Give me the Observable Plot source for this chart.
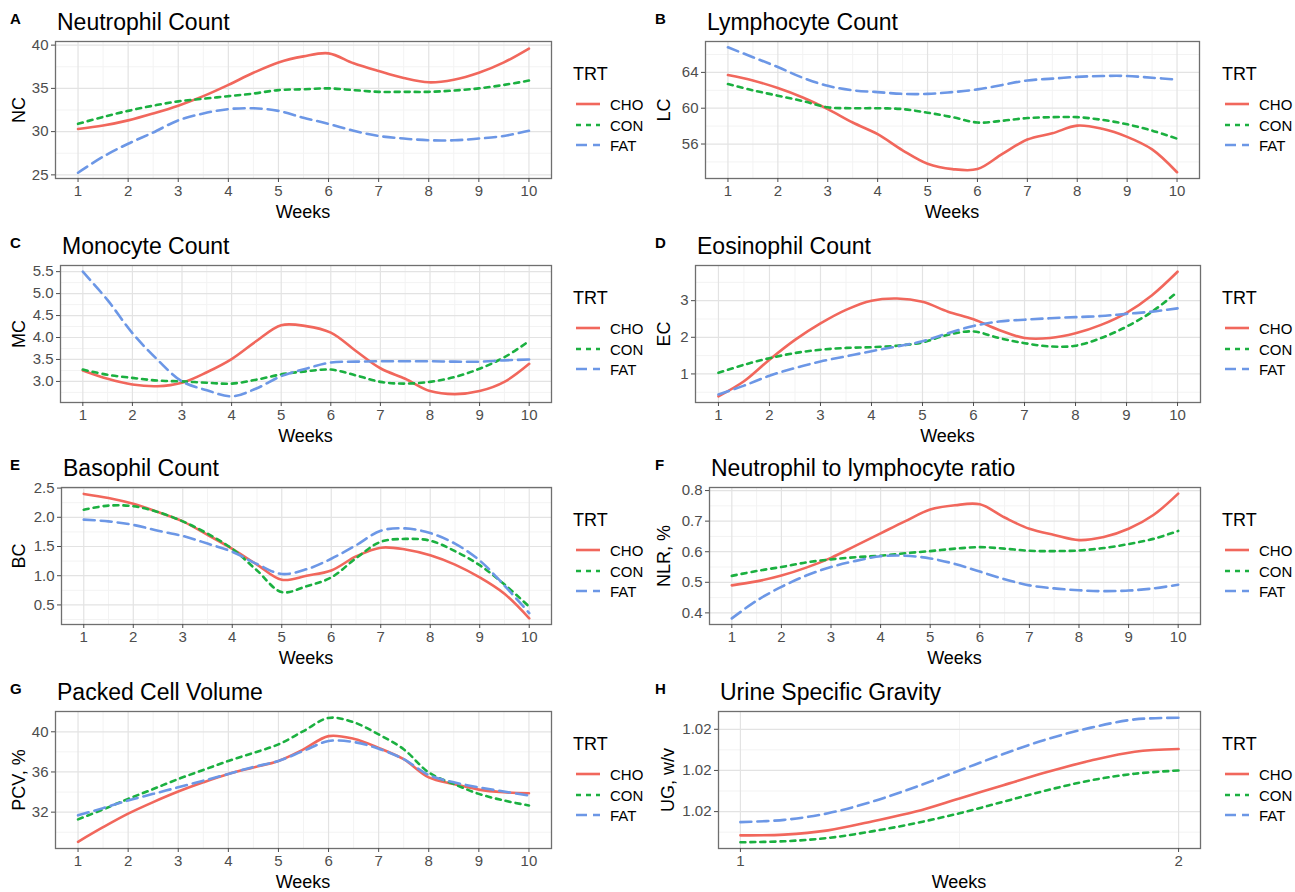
<!DOCTYPE html>
<html><head><meta charset="utf-8">
<script src="https://cdn.jsdelivr.net/npm/d3@7"></script>
<script src="https://cdn.jsdelivr.net/npm/@observablehq/plot@0.6"></script>
<style>
body{margin:0;background:#fff;font-family:"Liberation Sans",Arial,Helvetica,sans-serif;}
#root{position:relative;width:1295px;height:892px;overflow:hidden;background:#fff;}
.abs{position:absolute;white-space:nowrap;line-height:1;color:#000;}
.title{font-size:23px;transform:translateY(-50%);}
.letter{font-size:15px;font-weight:bold;transform:translateY(-50%);}
.ytitle{font-size:18px;transform:translate(-50%,-50%) rotate(-90deg);}
.xtitle{font-size:18px;transform:translate(-50%,-50%);}
.legtitle{font-size:18px;transform:translateY(-50%);}
.legitem{font-size:15px;transform:translateY(-50%);}
svg.key{position:absolute;overflow:visible;}
.plotwrap{position:absolute;}
</style>
</head><body>
<div id="root"></div>
<script>
// ---------- data ----------
const trt = ["CHO", "CON", "FAT"];
const weeks = [1,1.5,2,2.5,3,3.5,4,4.5,5,5.5,6,6.5,7,7.5,8,8.5,9,9.5,10];
const weeksUG = [1,1.1,1.2,1.3,1.4,1.5,1.6,1.7,1.8,1.9,2];
const weekTicks = [1,2,3,4,5,6,7,8,9,10];
const weekMinor = [1.5,2.5,3.5,4.5,5.5,6.5,7.5,8.5,9.5];
const weekTicksUG = [1,2];
const weekMinorUG = [1.5];

const NC_CHO = [30.3,30.7,31.3,32.1,33.0,34.1,35.4,36.8,38.0,38.7,39.05,37.9,37.0,36.2,35.7,36.0,36.8,38.0,39.6];
const NC_CON = [30.9,31.7,32.4,33.0,33.5,33.8,34.1,34.4,34.8,34.9,35.0,34.8,34.6,34.6,34.6,34.75,35.0,35.4,35.9];
const NC_FAT = [25.25,27.1,28.6,29.9,31.3,32.1,32.6,32.7,32.4,31.6,30.9,30.1,29.5,29.2,29.0,29.0,29.2,29.5,30.1];

const LC_CHO = [63.7,63.1,62.25,61.2,59.9,58.4,57.1,55.3,53.8,53.2,53.2,54.9,56.5,57.2,58.05,57.7,56.8,55.4,52.85];
const LC_CON = [62.7,62.0,61.4,60.8,60.1,60.0,60.0,59.9,59.5,59.0,58.4,58.6,58.9,59.0,59.0,58.7,58.2,57.5,56.6];
const LC_FAT = [66.8,65.7,64.6,63.4,62.5,62.0,61.8,61.6,61.6,61.8,62.1,62.6,63.1,63.3,63.5,63.6,63.6,63.4,63.2];

const MC_CHO = [3.25,3.06,2.93,2.89,2.97,3.21,3.51,3.92,4.28,4.26,4.11,3.70,3.30,3.06,2.78,2.71,2.78,2.99,3.40];
const MC_CON = [3.27,3.15,3.08,3.02,3.0,2.97,2.95,3.04,3.16,3.23,3.27,3.14,2.99,2.95,2.99,3.10,3.29,3.55,3.92];
const MC_FAT = [5.5,4.85,4.1,3.5,3.0,2.8,2.66,2.84,3.12,3.29,3.43,3.45,3.46,3.46,3.46,3.45,3.45,3.48,3.5];

const EC_CHO = [0.39,0.80,1.39,1.93,2.38,2.75,3.0,3.06,2.97,2.70,2.49,2.20,1.98,1.98,2.11,2.34,2.67,3.15,3.79];
const EC_CON = [1.03,1.25,1.43,1.57,1.66,1.71,1.73,1.77,1.86,2.07,2.16,1.98,1.84,1.75,1.77,1.98,2.29,2.70,3.24];
const EC_FAT = [0.44,0.68,0.95,1.16,1.34,1.48,1.62,1.75,1.89,2.11,2.31,2.43,2.48,2.52,2.55,2.58,2.64,2.70,2.79];

const BC_CHO = [2.40,2.33,2.23,2.09,1.93,1.70,1.46,1.19,0.93,1.0,1.09,1.33,1.48,1.45,1.35,1.19,0.97,0.69,0.27];
const BC_CON = [2.13,2.20,2.19,2.09,1.93,1.72,1.46,1.09,0.72,0.82,0.97,1.30,1.58,1.63,1.60,1.42,1.18,0.85,0.47];
const BC_FAT = [1.96,1.93,1.87,1.77,1.68,1.55,1.41,1.20,1.03,1.11,1.29,1.52,1.77,1.81,1.73,1.55,1.26,0.83,0.36];

const NLR_CHO = [0.49,0.503,0.522,0.548,0.58,0.62,0.66,0.70,0.738,0.752,0.755,0.712,0.675,0.655,0.638,0.648,0.675,0.72,0.79];
const NLR_CON = [0.521,0.537,0.55,0.565,0.575,0.582,0.587,0.595,0.602,0.61,0.615,0.61,0.603,0.602,0.604,0.612,0.625,0.642,0.668];
const NLR_FAT = [0.382,0.44,0.485,0.522,0.55,0.57,0.585,0.587,0.578,0.56,0.535,0.51,0.49,0.48,0.474,0.471,0.473,0.48,0.492];

const PCV_CHO = [29.05,30.5,31.85,33.0,34.05,34.97,35.8,36.45,37.1,38.25,39.57,39.3,38.4,37.27,35.46,34.8,34.24,33.98,33.88];
const PCV_CON = [31.28,32.27,33.32,34.3,35.3,36.2,37.1,37.9,38.75,40.07,41.38,40.95,39.74,38.26,35.95,34.8,33.82,33.16,32.66];
const PCV_FAT = [31.68,32.4,33.16,33.82,34.47,35.13,35.8,36.5,37.1,38.1,39.08,38.98,38.32,37.27,35.7,34.97,34.47,34.05,33.65];

const UG_CHO = [1.019712,1.01972,1.019772,1.01988,1.0200,1.02016,1.02032,1.02048,1.02062,1.020728,1.02076];
const UG_CON = [1.019628,1.01964,1.01968,1.01976,1.01986,1.01998,1.02012,1.02026,1.02038,1.02046,1.0205];
const UG_FAT = [1.019872,1.0199,1.01998,1.02012,1.0203,1.0205,1.0207,1.02088,1.02102,1.02112,1.02114];

const ticksNC = [25,30,35,40], minorNC = [27.5,32.5,37.5];
const ticksLC = [56,60,64], minorLC = [54,58,62,66];
const ticksMC = [3.0,3.5,4.0,4.5,5.0,5.5], minorMC = [2.75,3.25,3.75,4.25,4.75,5.25];
const ticksEC = [1,2,3], minorEC = [0.5,1.5,2.5,3.5];
const ticksBC = [0.5,1.0,1.5,2.0,2.5], minorBC = [0.25,0.75,1.25,1.75,2.25];
const ticksNLR = [0.4,0.5,0.6,0.7,0.8], minorNLR = [0.45,0.55,0.65,0.75];
const ticksPCV = [32,36,40], minorPCV = [30,34,38];
const ticksUG = [1.0200,1.0205,1.0210], minorUG = [1.01975,1.02025,1.02075];

// ---------- styles ----------
const trtColors = ["#F1675C", "#1BB040", "#6C97E6"];
const trtDash = [null, "5,5", "11,6"];
const colX = [0, 645], colW = [560, 565];
const rowY = [0, 224, 446, 670];
const plotH = 222, mTop = 41, mBottom = 44;
const legX = [573, 1222];

const panels = [
  {letter:"A", title:"Neutrophil Count", ylab:"NC", col:0, row:0, left:55, right:551, ylabX:19,
   xs:weeks, series:[NC_CHO,NC_CON,NC_FAT], yDomain:[24.58,40.42], yTicks:ticksNC, yMinor:minorNC, fmt:"d",
   xDomain:[0.55,10.45], xTicks:weekTicks, xMinor:weekMinor},
  {letter:"B", title:"Lymphocyte Count", ylab:"LC", col:1, row:0, left:705, right:1199, ylabX:664,
   xs:weeks, series:[LC_CHO,LC_CON,LC_FAT], yDomain:[52.15,67.45], yTicks:ticksLC, yMinor:minorLC, fmt:"d",
   xDomain:[0.55,10.45], xTicks:weekTicks, xMinor:weekMinor},
  {letter:"C", title:"Monocyte Count", ylab:"MC", col:0, row:1, left:60, right:551, ylabX:19,
   xs:weeks, series:[MC_CHO,MC_CON,MC_FAT], yDomain:[2.52,5.64], yTicks:ticksMC, yMinor:minorMC, fmt:".1f",
   xDomain:[0.55,10.45], xTicks:weekTicks, xMinor:weekMinor},
  {letter:"D", title:"Eosinophil Count", ylab:"EC", col:1, row:1, left:695, right:1200, ylabX:664,
   xs:weeks, series:[EC_CHO,EC_CON,EC_FAT], yDomain:[0.22,3.96], yTicks:ticksEC, yMinor:minorEC, fmt:"d",
   xDomain:[0.55,10.45], xTicks:weekTicks, xMinor:weekMinor},
  {letter:"E", title:"Basophil Count", ylab:"BC", col:0, row:2, left:61, right:551, ylabX:19,
   xs:weeks, series:[BC_CHO,BC_CON,BC_FAT], yDomain:[0.165,2.51], yTicks:ticksBC, yMinor:minorBC, fmt:".1f",
   xDomain:[0.55,10.45], xTicks:weekTicks, xMinor:weekMinor},
  {letter:"F", title:"Neutrophil to lymphocyte ratio", ylab:"NLR, %", col:1, row:2, left:709, right:1200, ylabX:664,
   xs:weeks, series:[NLR_CHO,NLR_CON,NLR_FAT], yDomain:[0.362,0.81], yTicks:ticksNLR, yMinor:minorNLR, fmt:".1f",
   xDomain:[0.55,10.45], xTicks:weekTicks, xMinor:weekMinor},
  {letter:"G", title:"Packed Cell Volume", ylab:"PCV, %", col:0, row:3, left:55, right:551, ylabX:19,
   xs:weeks, series:[PCV_CHO,PCV_CON,PCV_FAT], yDomain:[28.38,42.02], yTicks:ticksPCV, yMinor:minorPCV, fmt:"d",
   xDomain:[0.55,10.45], xTicks:weekTicks, xMinor:weekMinor},
  {letter:"H", title:"Urine Specific Gravity", ylab:"UG, w/v", col:1, row:3, left:718, right:1200, ylabX:668,
   xs:weeksUG, series:[UG_CHO,UG_CON,UG_FAT], yDomain:[1.019552,1.021216], yTicks:ticksUG, yMinor:minorUG, fmt:".2f",
   xDomain:[0.95,2.05], xTicks:weekTicksUG, xMinor:weekMinorUG}
];

const root = document.getElementById("root");
function addText(cls, txt, x, y) {
  const d = document.createElement("div");
  d.className = "abs " + cls;
  d.textContent = txt;
  d.style.left = x + "px";
  d.style.top = y + "px";
  root.appendChild(d);
  return d;
}

for (const p of panels) {
  const cx = colX[p.col], W = colW[p.col], ry = rowY[p.row];
  const lineMarks = p.series.map((s, k) =>
    Plot.line(s, {x: (d, i) => p.xs[i], y: d => d, stroke: trtColors[k], strokeWidth: 2.6,
      strokeDasharray: trtDash[k] ?? undefined, curve: "catmull-rom"}));
  const chart = Plot.plot({
    width: W, height: plotH,
    marginLeft: p.left - cx, marginRight: cx + W - p.right, marginTop: mTop, marginBottom: mBottom,
    x: {domain: p.xDomain},
    y: {domain: p.yDomain},
    style: {fontFamily: '"Liberation Sans", Arial, sans-serif', fontSize: "15px", color: "#4d4d4d", background: "transparent", overflow: "visible"},
    marks: [
      Plot.gridX(p.xMinor, {stroke: "#f3f3f3", strokeOpacity: 1, strokeWidth: 1}),
      Plot.gridY(p.yMinor, {stroke: "#f3f3f3", strokeOpacity: 1, strokeWidth: 1}),
      Plot.gridX(p.xTicks, {stroke: "#e3e3e3", strokeOpacity: 1, strokeWidth: 1.2}),
      Plot.gridY(p.yTicks, {stroke: "#e3e3e3", strokeOpacity: 1, strokeWidth: 1.2}),
      ...lineMarks,
      Plot.frame({stroke: "#6f6f6f", strokeWidth: 1.3}),
      Plot.axisX(p.xTicks, {tickSize: 4, tickPadding: 3, label: null, fontSize: 15, tickFormat: d => String(d)}),
      Plot.axisY(p.yTicks, {tickSize: 4, tickPadding: 3, label: null, fontSize: 15, tickFormat: d3.format(p.fmt)})
    ]
  });
  const wrap = document.createElement("div");
  wrap.className = "plotwrap";
  wrap.style.left = cx + "px";
  wrap.style.top = ry + "px";
  wrap.appendChild(chart);
  root.appendChild(wrap);

  // titles and axis titles
  addText("letter", p.letter, cx + 10, ry + 18);
  addText("title", p.title, p.left + 2, ry + 22);
  addText("xtitle", "Weeks", (p.left + p.right) / 2, ry + 212);
  addText("ytitle", p.ylab, p.ylabX, ry + (mTop + (plotH - mBottom)) / 2);

  // legend
  const lx = legX[p.col];
  addText("legtitle", "TRT", lx, ry + 74);
  trt.forEach((name, k) => {
    const yy = ry + 104 + k * 20.5;
    const svg = document.createElementNS("http://www.w3.org/2000/svg", "svg");
    svg.setAttribute("class", "key");
    svg.setAttribute("width", 26); svg.setAttribute("height", 10);
    svg.style.left = (lx + 3) + "px"; svg.style.top = (yy - 5) + "px";
    const ln = document.createElementNS("http://www.w3.org/2000/svg", "line");
    ln.setAttribute("x1", 0); ln.setAttribute("x2", 24); ln.setAttribute("y1", 5); ln.setAttribute("y2", 5);
    ln.setAttribute("stroke", trtColors[k]); ln.setAttribute("stroke-width", 2.6);
    if (trtDash[k]) ln.setAttribute("stroke-dasharray", trtDash[k]);
    svg.appendChild(ln);
    root.appendChild(svg);
    addText("legitem", name, lx + 37, yy);
  });
}
</script>
</body></html>
